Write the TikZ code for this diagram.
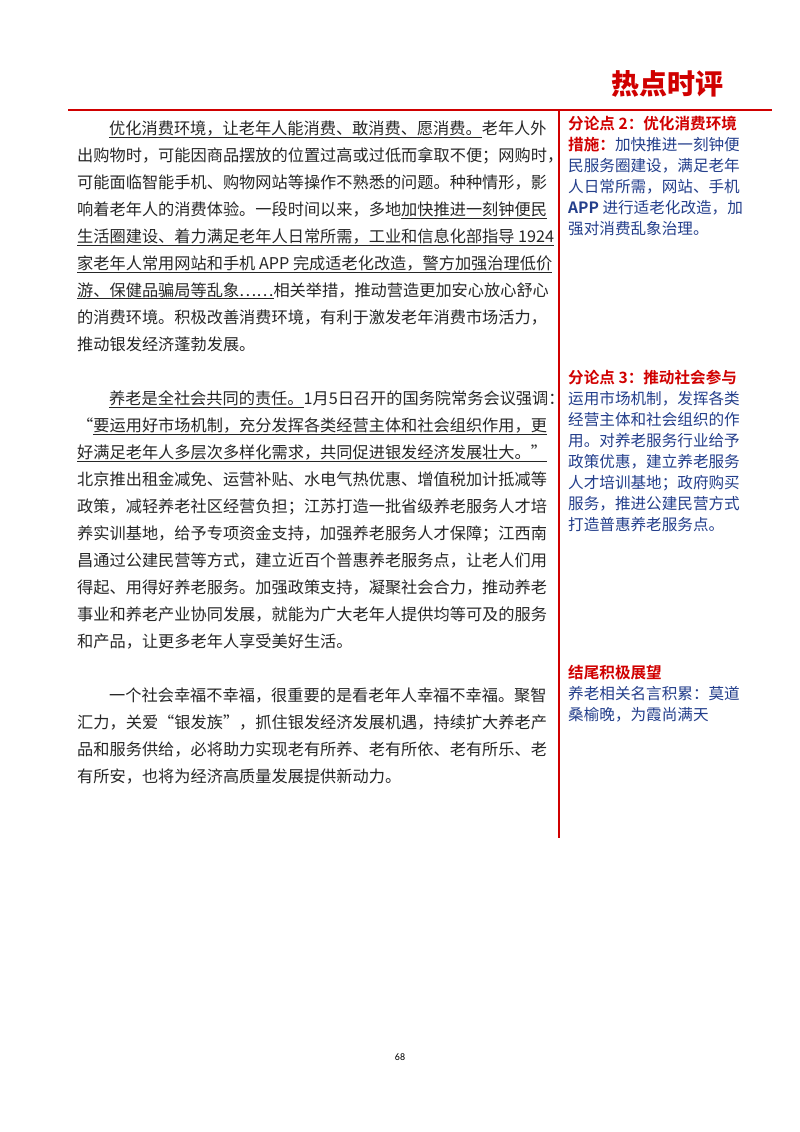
\documentclass[tikz,border=0pt]{standalone}
\usepackage{fontspec}
\setmainfont{Noto Sans CJK SC}
\newfontfamily\cjkbold{Noto Sans CJK SC Bold}
\newfontfamily\cjkblack{Noto Sans CJK SC Black}
\newfontfamily\numfont{Carlito}
\definecolor{hred}{HTML}{D00000}
\definecolor{sblue}{HTML}{233E8B}
\tikzset{
  body/.style={anchor=base west,inner sep=0pt,font=\fontsize{16.2}{16.2}\selectfont,text=black!85},
  side/.style={anchor=base west,inner sep=0pt,font=\fontsize{15.6}{15.6}\selectfont,text=sblue},
  sidehead/.style={anchor=base west,inner sep=0pt,font=\cjkbold\fontsize{15.6}{15.6}\selectfont,text=hred},
  rule/.style={draw=hred,line width=2.6pt}
}
\newcommand{\ul}[1]{\underline{#1}}
\begin{document}
\begin{tikzpicture}[x=1pt,y=-1pt]
\useasboundingbox (0,0) rectangle (800,1132);
\node[anchor=base west,inner sep=0pt,font=\cjkblack\fontsize{28}{28}\selectfont,text=hred] (title) at (611,94) {热点时评};
\coordinate (hl) at (68,110); \coordinate (hr) at (772,110);
\coordinate (vt) at (559,110); \coordinate (vb) at (559,838);
\draw[rule] (hl) -- (hr);
\draw[rule] (vt) -- (vb);
% paragraph 1
\node[body] (p1a) at (109,134) {\ul{优化消费环境，让老年人能消费、敢消费、愿消费。}老年人外};
\node[body] (p1b) at (77,161) {出购物时，可能因商品摆放的位置过高或过低而拿取不便；网购时，};
\node[body] (p1c) at (77,188) {可能面临智能手机、购物网站等操作不熟悉的问题。种种情形，影};
\node[body] (p1d) at (77,215) {响着老年人的消费体验。一段时间以来，多地\ul{加快推进一刻钟便民}};
\node[body] (p1e) at (77,242) {\ul{生活圈建设、着力满足老年人日常所需，工业和信息化部指导 1924}};
\node[body] (p1f) at (77,269) {\ul{家老年人常用网站和手机 APP 完成适老化改造，警方加强治理低价}};
\node[body] (p1g) at (77,296) {\ul{游、保健品骗局等乱象……}相关举措，推动营造更加安心放心舒心};
\node[body] (p1h) at (77,323) {的消费环境。积极改善消费环境，有利于激发老年消费市场活力，};
\node[body] (p1i) at (77,350) {推动银发经济蓬勃发展。};
% paragraph 2
\node[body] (p2a) at (109,404) {\ul{养老是全社会共同的责任。}1月5日召开的国务院常务会议强调：};
\node[body] (p2b) at (77,431) {“\ul{要运用好市场机制，充分发挥各类经营主体和社会组织作用，更}};
\node[body] (p2c) at (77,458) {\ul{好满足老年人多层次多样化需求，共同促进银发经济发展壮大。”}};
\node[body] (p2d) at (77,485) {北京推出租金减免、运营补贴、水电气热优惠、增值税加计抵减等};
\node[body] (p2e) at (77,512) {政策，减轻养老社区经营负担；江苏打造一批省级养老服务人才培};
\node[body] (p2f) at (77,539) {养实训基地，给予专项资金支持，加强养老服务人才保障；江西南};
\node[body] (p2g) at (77,566) {昌通过公建民营等方式，建立近百个普惠养老服务点，让老人们用};
\node[body] (p2h) at (77,593) {得起、用得好养老服务。加强政策支持，凝聚社会合力，推动养老};
\node[body] (p2i) at (77,620) {事业和养老产业协同发展，就能为广大老年人提供均等可及的服务};
\node[body] (p2j) at (77,647) {和产品，让更多老年人享受美好生活。};
% paragraph 3
\node[body] (p3a) at (109,701) {一个社会幸福不幸福，很重要的是看老年人幸福不幸福。聚智};
\node[body] (p3b) at (77,728) {汇力，关爱“银发族”，抓住银发经济发展机遇，持续扩大养老产};
\node[body] (p3c) at (77,755) {品和服务供给，必将助力实现老有所养、老有所依、老有所乐、老};
\node[body] (p3d) at (77,782) {有所安，也将为经济高质量发展提供新动力。};
% sidebar 1
\node[sidehead] (s1a) at (568,129) {分论点 2：优化消费环境};
\node[side] (s1b) at (568,150) {{\cjkbold\color{hred}措施：}加快推进一刻钟便};
\node[side] (s1c) at (568,171) {民服务圈建设，满足老年};
\node[side] (s1d) at (568,192) {人日常所需，网站、手机};
\node[side] (s1e) at (568,213) {{\cjkbold APP} 进行适老化改造，加};
\node[side] (s1f) at (568,234) {强对消费乱象治理。};
% sidebar 2
\node[sidehead] (s2a) at (568,383) {分论点 3：推动社会参与};
\node[side] (s2b) at (568,404) {运用市场机制，发挥各类};
\node[side] (s2c) at (568,425) {经营主体和社会组织的作};
\node[side] (s2d) at (568,446) {用。对养老服务行业给予};
\node[side] (s2e) at (568,467) {政策优惠，建立养老服务};
\node[side] (s2f) at (568,488) {人才培训基地；政府购买};
\node[side] (s2g) at (568,509) {服务，推进公建民营方式};
\node[side] (s2h) at (568,530) {打造普惠养老服务点。};
% sidebar 3
\node[sidehead] (s3a) at (568,678) {结尾积极展望};
\node[side] (s3b) at (568,699) {养老相关名言积累：莫道};
\node[side] (s3c) at (568,720) {桑榆晚，为霞尚满天};
\node[inner sep=0pt,font=\numfont\fontsize{10}{10}\selectfont] (pg) at (400,1057) {68};
\end{tikzpicture}
\end{document}
